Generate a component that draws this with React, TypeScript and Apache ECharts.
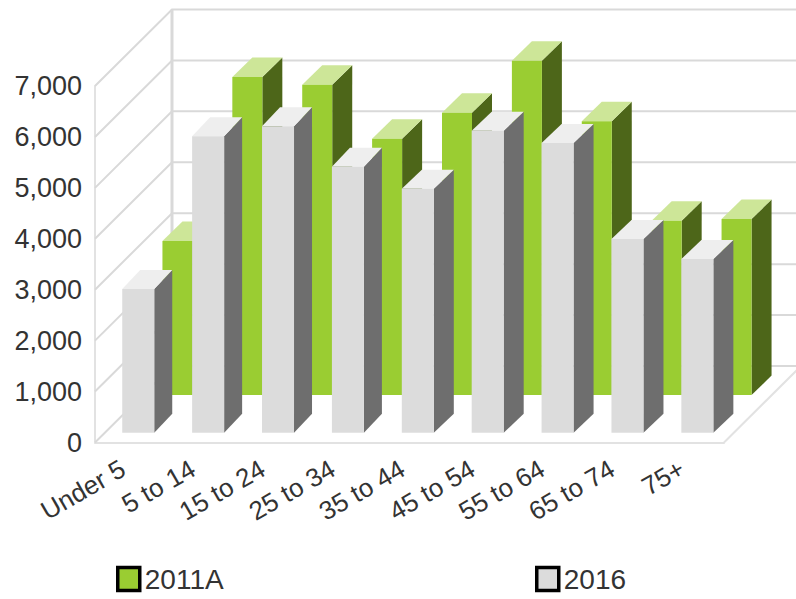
import React, { useEffect, useRef } from "react";
import * as echarts from "echarts";

const categories = ["Under 5", "5 to 14", "15 to 24", "25 to 34", "35 to 44", "45 to 54", "55 to 64", "65 to 74", "75+"];
const values2011A = [3025, 6248, 6096, 5035, 5546, 6567, 5377, 3424, 3457];
const values2016 = [2823, 5821, 6018, 5226, 4794, 5933, 5691, 3805, 3412];
const wallTicks = [0, 1000, 2000, 3000, 4000, 5000, 6000, 7000];

const WALL_DX = 77;
const WALL_DY = 76.5;
const WALL = "#d9d9d9";

function wallItem(params: any, api: any) {
  const cs = params.coordSys;
  const v = api.value(0);
  const y = api.coord([0, v])[1];
  const x0 = cs.x;
  const bx = x0 + WALL_DX;
  const by = y - WALL_DY;
  const children: any[] = [
    { type: "polyline", shape: { points: [[x0, y], [bx, by], [x0 + cs.width + WALL_DX, by]] }, style: { fill: "none", stroke: WALL, lineWidth: 2 } },
  ];
  if (params.dataIndex === 0) {
    const topY = api.coord([0, 7000])[1];
    children.push(
      { type: "line", shape: { x1: bx, y1: by, x2: bx, y2: topY - WALL_DY }, style: { stroke: WALL, lineWidth: 3 } },
      { type: "line", shape: { x1: x0 + cs.width, y1: y, x2: x0 + cs.width + WALL_DX, y2: by }, style: { stroke: "#e2e2e2", lineWidth: 2 } }
    );
  }
  return { type: "group", children };
}

function barRenderer(o: { off: number; w: number; lift: number; front: string; side: string; top: string; dx: (i: number) => number; dy: number }) {
  return (params: any, api: any) => {
    const i = api.value(0);
    const base = api.coord([i, 0]);
    const topPt = api.coord([i, api.value(1)]);
    const xL = base[0] + o.off - o.w / 2;
    const xR = xL + o.w;
    const yB = base[1] - o.lift;
    const yT = topPt[1] - o.lift;
    const dx = o.dx(i);
    const dy = o.dy;
    return {
      type: "group",
      children: [
        { type: "polygon", shape: { points: [[xR, yT], [xR + dx, yT - dy], [xR + dx, yB - dy], [xR, yB]] }, style: { fill: o.side } },
        { type: "polygon", shape: { points: [[xL, yT], [xL + dx, yT - dy], [xR + dx, yT - dy], [xR, yT]] }, style: { fill: o.top } },
        { type: "rect", shape: { x: xL, y: yT, width: o.w, height: yB - yT }, style: { fill: o.front } },
      ],
    };
  };
}

const legendBase = {
  orient: "horizontal" as const,
  selectedMode: false,
  icon: "rect",
  itemWidth: 22,
  itemHeight: 23,
  itemGap: 0,
  padding: 0,
  top: 565,
  textStyle: { fontFamily: "Liberation Sans", fontSize: 28, color: "#333" },
};

export default function App() {
  const ref = useRef<HTMLDivElement>(null);
  useEffect(() => {
    const chart = echarts.init(ref.current!, undefined, { renderer: "svg" });
    chart.setOption({
      animation: false,
      backgroundColor: "#fff",
      grid: { left: 95, top: 86, width: 629, height: 356.5, containLabel: false },
      legend: [
        { ...legendBase, left: 116, data: ["2011A"], itemStyle: { borderColor: "#000", borderWidth: 3.5 } },
        { ...legendBase, left: 535, data: ["2016"], itemStyle: { borderColor: "#000", borderWidth: 3.5 } },
      ],
      xAxis: {
        type: "category",
        data: categories,
        axisLine: { show: true, lineStyle: { color: "#e2e2e2", width: 2 } },
        axisTick: { show: false },
        splitLine: { show: false },
        axisLabel: { interval: 0, rotate: 30, margin: 20, padding: [0, 8, 0, 0], fontFamily: "Liberation Sans", fontSize: 26, color: "#333" },
      },
      yAxis: {
        type: "value",
        min: 0,
        max: 7000,
        interval: 1000,
        axisLine: { show: true, lineStyle: { color: "#e2e2e2", width: 2 } },
        axisTick: { show: false },
        splitLine: { show: false },
        axisLabel: {
          margin: 13,
          padding: [0, 0, 2, 0],
          fontFamily: "Liberation Sans",
          fontSize: 27,
          color: "#333",
          formatter: (v: number) => v.toLocaleString("en-US"),
        },
      },
      series: [
        { type: "custom", name: "walls", silent: true, data: wallTicks.map((t) => [t]), encode: { y: 0 }, renderItem: wallItem, z: 1 },
        {
          type: "custom",
          name: "2011A",
          itemStyle: { color: "#9acd32" },
          data: values2011A.map((v, i) => [i, v]),
          encode: { x: 0, y: 1 },
          z: 2,
          renderItem: barRenderer({ off: 47.5, w: 30, lift: 47.4, front: "#9acd32", side: "#4d6619", top: "#cde698", dx: () => 20, dy: 19.5 }),
        },
        {
          type: "custom",
          name: "2016",
          itemStyle: { color: "#dcdcdc" },
          data: values2016.map((v, i) => [i, v]),
          encode: { x: 0, y: 1 },
          z: 3,
          renderItem: barRenderer({ off: 8.3, w: 32, lift: 9.7, front: "#dcdcdc", side: "#6e6e6e", top: "#eeeeee", dx: (i) => (i < 4 ? 18 : 20), dy: 19 }),
        },
      ],
    });
    return () => chart.dispose();
  }, []);
  return <div ref={ref} style={{ position: "absolute", left: 0, top: 0, width: 796, height: 599 }} />;
}
